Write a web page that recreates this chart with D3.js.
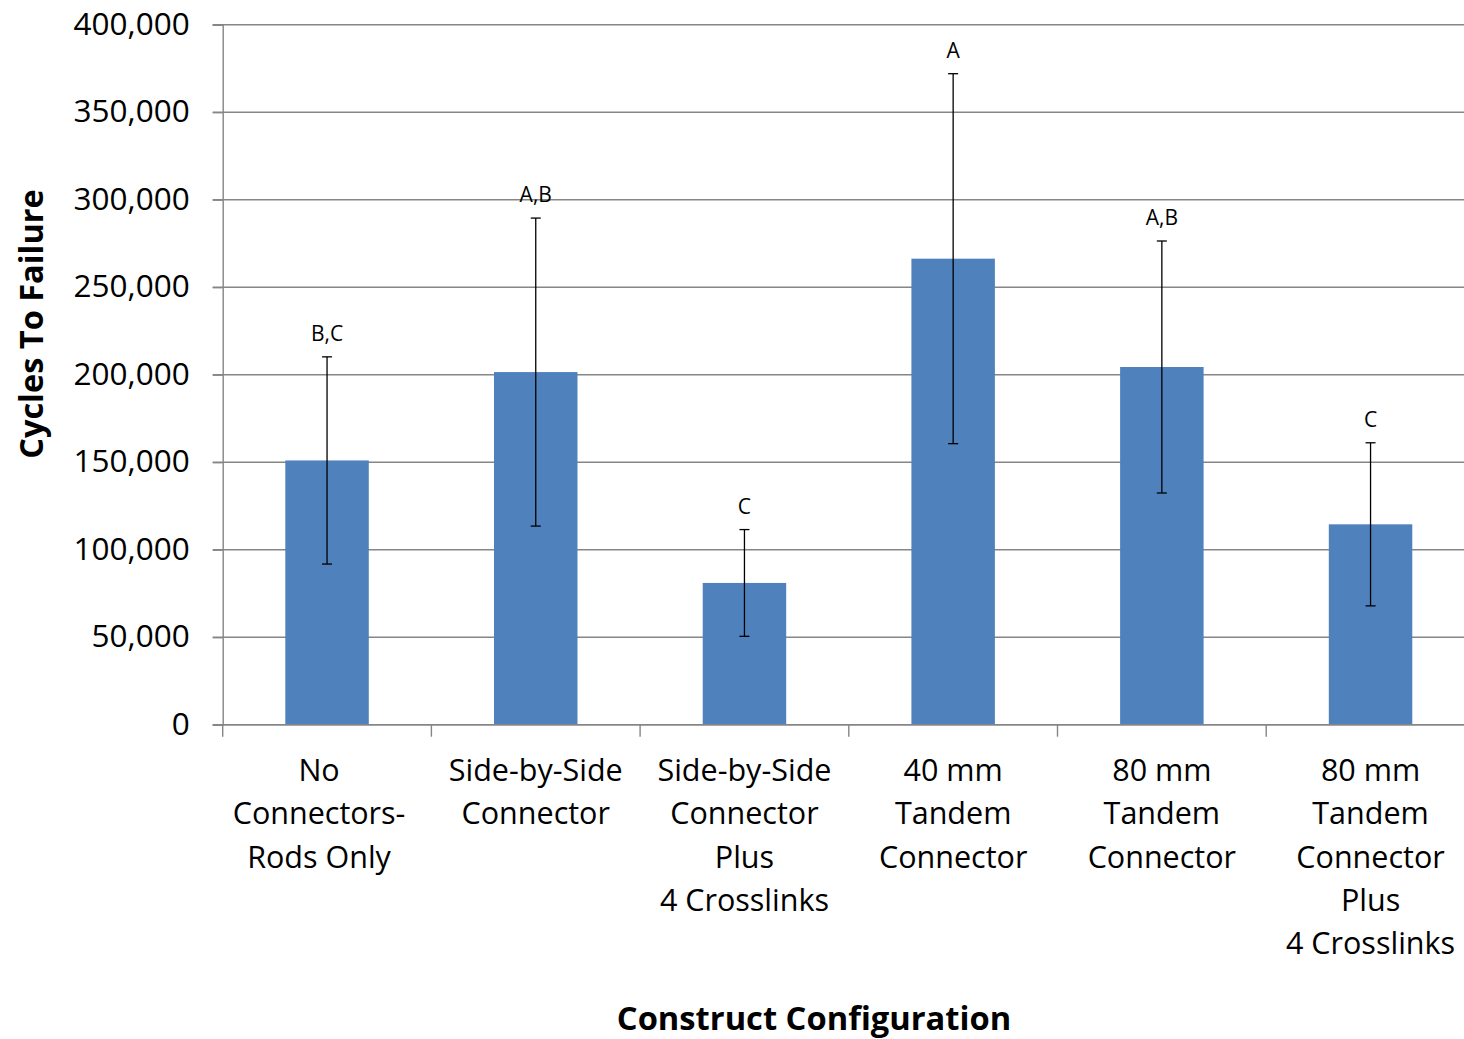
<!DOCTYPE html>
<html>
<head>
<meta charset="utf-8">
<script src="https://cdn.jsdelivr.net/npm/d3@7"></script>
<style>
  html, body { margin: 0; padding: 0; background: #fff; overflow: hidden; }
  svg { display: block; }
  text { font-family: "Open Sans", "Noto Sans", sans-serif; fill: #000; }
</style>
</head>
<body>
<svg id="chart" width="1464" height="1039"></svg>
<script>
// ---- data ----
const categories = [
  "No|Connectors-|Rods Only",
  "Side-by-Side|Connector",
  "Side-by-Side|Connector|Plus|4 Crosslinks",
  "40 mm|Tandem|Connector",
  "80 mm|Tandem|Connector",
  "80 mm|Tandem|Connector|Plus|4 Crosslinks"
];
const meanCycles = [151000, 201500, 81000, 266300, 204400, 114500];
const errCycles  = [59200, 88000, 30500, 105700, 72000, 46600];
const groupLetters = ["B,C", "A,B", "C", "A", "A,B", "C"];
const yTickValues = [0, 50000, 100000, 150000, 200000, 250000, 300000, 350000, 400000];
const yTitle = "Cycles To Failure";
const xTitle = "Construct Configuration";

// ---- layout ----
const mLeft = 222.7, mTop = 24.7, mBottom = 724.7;
const bandW = 208.7;
const plotRight = mLeft + bandW * categories.length;

const svg = d3.select("#chart");

const x = d3.scaleBand().domain(d3.range(categories.length)).range([mLeft, plotRight]).padding(0);
const y = d3.scaleLinear().domain([0, 400000]).range([mBottom, mTop]);
const barW = x.bandwidth() * 0.4;
const fmt = d3.format(",");

// gridlines
svg.append("g").selectAll("line").data(yTickValues).join("line")
  .attr("x1", mLeft - 10).attr("x2", 1464)
  .attr("y1", d => y(d)).attr("y2", d => y(d))
  .attr("stroke", "#868686").attr("stroke-width", 1.4);

// y axis
const yAxis = svg.append("g").attr("transform", `translate(${mLeft},0)`)
  .call(d3.axisLeft(y).tickValues(yTickValues).tickFormat(fmt).tickSize(10).tickPadding(23));
yAxis.select(".domain").attr("stroke", "#868686").attr("stroke-width", 1.4);
yAxis.selectAll(".tick line").attr("stroke", "#868686").attr("stroke-width", 1.4);
yAxis.selectAll(".tick text")
  .attr("font-size", 31.5).attr("font-family", "'Open Sans', sans-serif").attr("fill", "#000")
  .attr("dy", "0.3em");

// bars
svg.append("g").selectAll("rect").data(meanCycles).join("rect")
  .attr("x", (d, i) => x(i) + (x.bandwidth() - barW) / 2)
  .attr("width", barW)
  .attr("y", d => y(d))
  .attr("height", d => y(0) - y(d))
  .attr("fill", "#4F81BD");

// x axis baseline and boundary ticks
const bounds = d3.range(categories.length).map(i => x(i)).concat([plotRight]);
svg.append("line").attr("x1", mLeft).attr("x2", plotRight).attr("y1", mBottom).attr("y2", mBottom)
  .attr("stroke", "#868686").attr("stroke-width", 1.4);
svg.append("g").selectAll("line").data(bounds).join("line")
  .attr("x1", d => d).attr("x2", d => d).attr("y1", mBottom).attr("y2", mBottom + 12)
  .attr("stroke", "#868686").attr("stroke-width", 1.4);

// error bars
const eg = svg.append("g").attr("stroke", "#000").attr("stroke-width", 1.3);
meanCycles.forEach((m, i) => {
  const cx = x(i) + x.bandwidth() / 2;
  const e = errCycles[i];
  eg.append("line").attr("x1", cx).attr("x2", cx).attr("y1", y(m + e)).attr("y2", y(m - e));
  eg.append("line").attr("x1", cx - 5).attr("x2", cx + 5).attr("y1", y(m + e)).attr("y2", y(m + e));
  eg.append("line").attr("x1", cx - 5).attr("x2", cx + 5).attr("y1", y(m - e)).attr("y2", y(m - e));
});

// significance letters
svg.append("g").selectAll("text").data(groupLetters).join("text")
  .attr("x", (d, i) => x(i) + x.bandwidth() / 2)
  .attr("y", (d, i) => y(meanCycles[i] + errCycles[i]) - 16)
  .attr("text-anchor", "middle")
  .attr("font-size", 21)
  .text(d => d);

// category labels
const xl = svg.append("g");
categories.forEach((c, i) => {
  const cx = x(i) + x.bandwidth() / 2 - (i === 0 ? 8 : 0);
  const t = xl.append("text")
    .attr("x", cx)
    .attr("y", 781)
    .attr("text-anchor", "middle")
    .attr("font-size", 30.5);
  c.split("|").forEach((line, k) => {
    t.append("tspan").attr("x", cx).attr("y", 781 + k * 43.3).text(line);
  });
});

// axis titles
svg.append("text")
  .attr("transform", "translate(43,324) rotate(-90)")
  .attr("text-anchor", "middle")
  .attr("font-size", 32.5).attr("font-weight", "bold")
  .text(yTitle);

svg.append("text")
  .attr("x", 814).attr("y", 1030)
  .attr("text-anchor", "middle")
  .attr("font-size", 32.7).attr("font-weight", "bold")
  .text(xTitle);
</script>
</body>
</html>
